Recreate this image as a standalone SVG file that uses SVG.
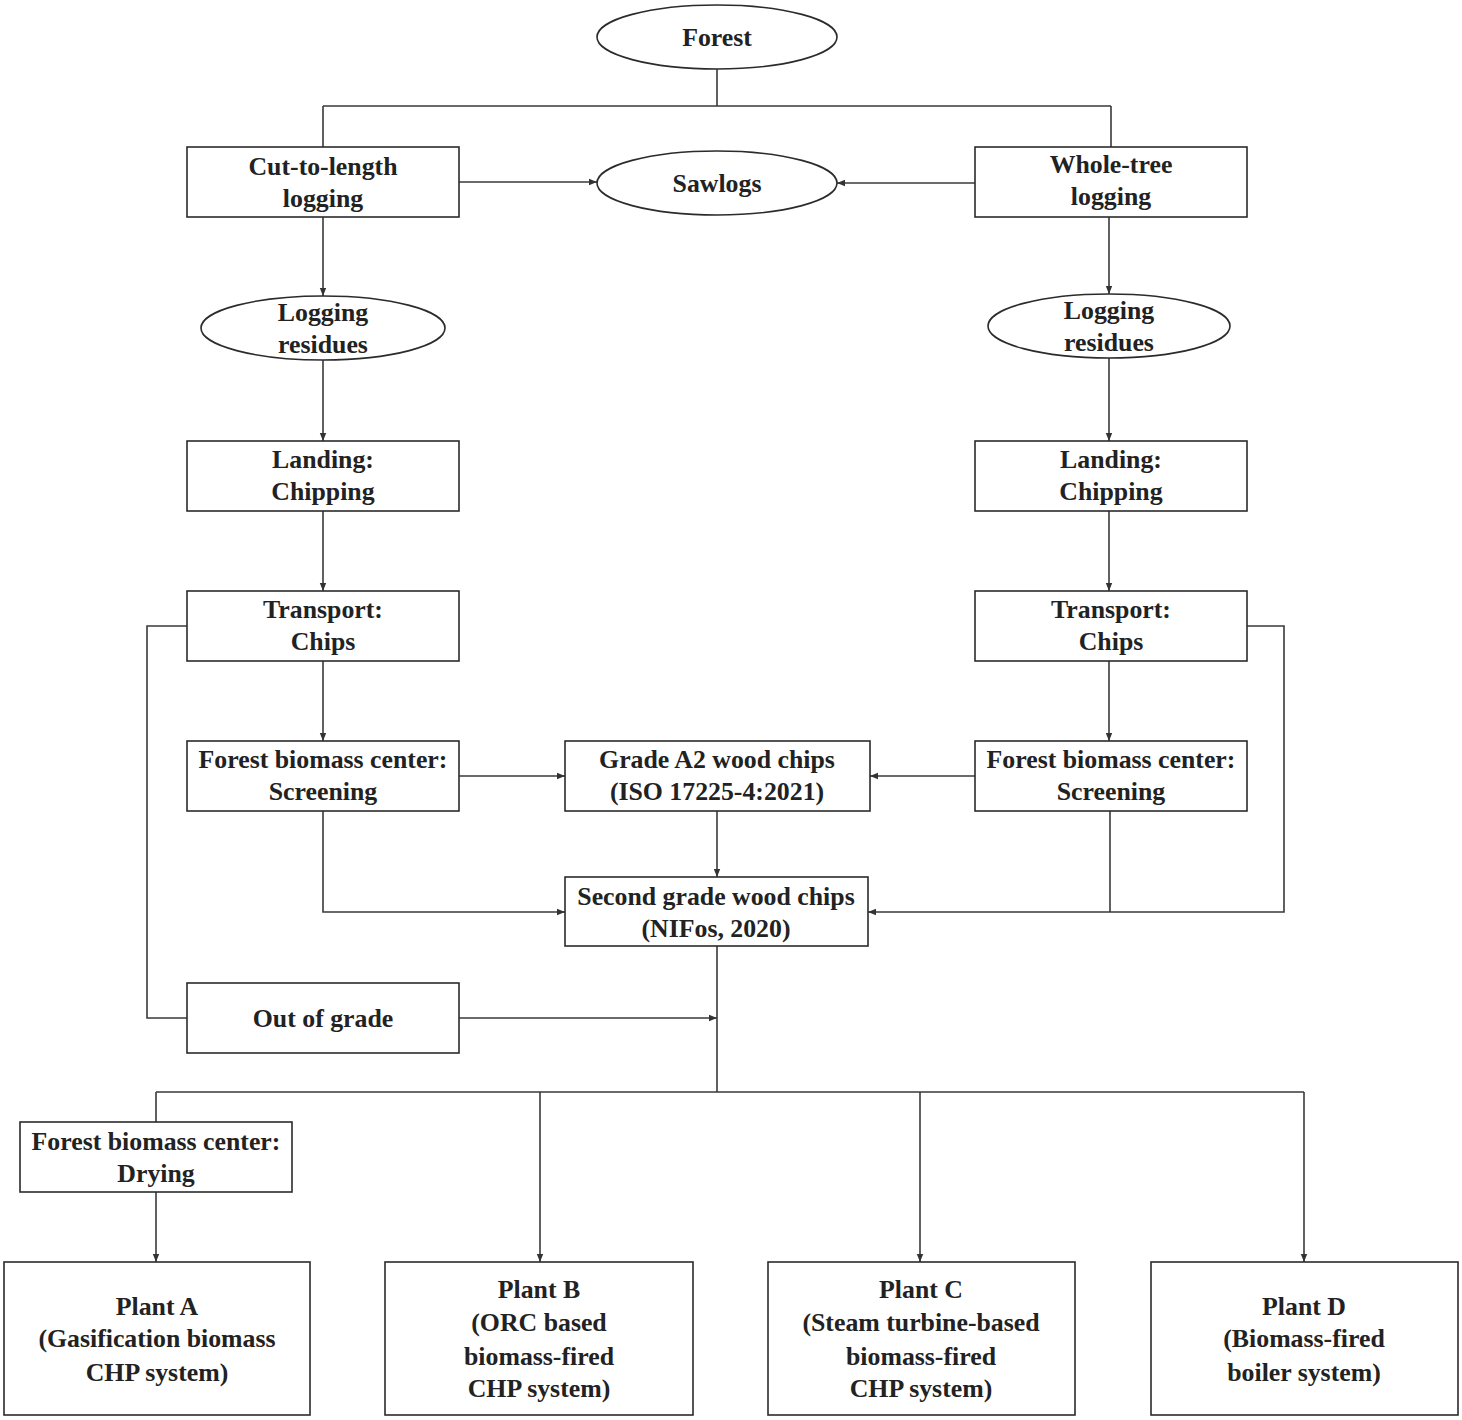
<svg xmlns="http://www.w3.org/2000/svg" width="1462" height="1420" viewBox="0 0 1462 1420">
<defs>
<marker id="ah" viewBox="0 0 10 10" refX="10" refY="5" markerWidth="8" markerHeight="8" markerUnits="userSpaceOnUse" orient="auto">
<path d="M0,1 L10,5 L0,9 Z" fill="#333"/>
</marker>
<style>
.n{fill:#fff;stroke:#2b2b2b;stroke-width:1.6}
.t{font-family:"Liberation Serif","Times New Roman",serif;font-weight:bold;font-size:25.8px;fill:#222;text-anchor:middle}
.c{fill:none;stroke:#3a3a3a;stroke-width:1.6}
.a{marker-end:url(#ah)}
</style>
</defs>
<rect width="1462" height="1420" fill="#fff"/>
<g id="connectors">
<path class="c" d="M717,69 V106 M323,106 H1111 M323,106 V147 M1111,106 V147"/>
<path class="c a" d="M459,182 H597"/>
<path class="c a" d="M975,183 H837"/>
<path class="c a" d="M323,217 V296"/>
<path class="c a" d="M1109,217 V294"/>
<path class="c a" d="M323,360 V441"/>
<path class="c a" d="M1109,358 V441"/>
<path class="c a" d="M323,511 V591"/>
<path class="c a" d="M1109,511 V591"/>
<path class="c a" d="M323,661 V741"/>
<path class="c a" d="M1109,661 V741"/>
<path class="c a" d="M459,776 H565"/>
<path class="c a" d="M975,776 H870"/>
<path class="c a" d="M717,811 V877"/>
<path class="c a" d="M323,811 V912 H565"/>
<path class="c" d="M1110,811 V912"/>
<path class="c a" d="M1247,626 H1284 V912 H868"/>
<path class="c" d="M187,626 H147 V1018 H187"/>
<path class="c a" d="M459,1018 H717"/>
<path class="c" d="M717,946 V1092 M156,1092 H1304 M156,1092 V1122"/>
<path class="c a" d="M156,1192 V1262"/>
<path class="c a" d="M540,1092 V1262"/>
<path class="c a" d="M920,1092 V1262"/>
<path class="c a" d="M1304,1092 V1262"/>
</g>
<g id="forest"><ellipse class="n" cx="717" cy="37" rx="120" ry="32"/><text class="t" x="717" y="46">Forest</text></g>
<g id="ctl"><rect class="n" x="187" y="147" width="272" height="70"/><text class="t" x="323" y="175">Cut-to-length</text><text class="t" x="323" y="207">logging</text></g>
<g id="sawlogs"><ellipse class="n" cx="717" cy="183" rx="120" ry="32"/><text class="t" x="717" y="192">Sawlogs</text></g>
<g id="wtl"><rect class="n" x="975" y="147" width="272" height="70"/><text class="t" x="1111" y="173">Whole-tree</text><text class="t" x="1111" y="205">logging</text></g>
<g id="lr1"><ellipse class="n" cx="323" cy="328" rx="122" ry="32"/><text class="t" x="323" y="321">Logging</text><text class="t" x="323" y="353">residues</text></g>
<g id="lr2"><ellipse class="n" cx="1109" cy="326" rx="121" ry="32"/><text class="t" x="1109" y="319">Logging</text><text class="t" x="1109" y="351">residues</text></g>
<g id="land1"><rect class="n" x="187" y="441" width="272" height="70"/><text class="t" x="323" y="468">Landing:</text><text class="t" x="323" y="500">Chipping</text></g>
<g id="land2"><rect class="n" x="975" y="441" width="272" height="70"/><text class="t" x="1111" y="468">Landing:</text><text class="t" x="1111" y="500">Chipping</text></g>
<g id="tr1"><rect class="n" x="187" y="591" width="272" height="70"/><text class="t" x="323" y="618">Transport:</text><text class="t" x="323" y="650">Chips</text></g>
<g id="tr2"><rect class="n" x="975" y="591" width="272" height="70"/><text class="t" x="1111" y="618">Transport:</text><text class="t" x="1111" y="650">Chips</text></g>
<g id="scr1"><rect class="n" x="187" y="741" width="272" height="70"/><text class="t" x="323" y="768">Forest biomass center:</text><text class="t" x="323" y="800">Screening</text></g>
<g id="a2"><rect class="n" x="565" y="741" width="305" height="70"/><text class="t" x="717" y="768">Grade A2 wood chips</text><text class="t" x="717" y="800">(ISO 17225-4:2021)</text></g>
<g id="scr2"><rect class="n" x="975" y="741" width="272" height="70"/><text class="t" x="1111" y="768">Forest biomass center:</text><text class="t" x="1111" y="800">Screening</text></g>
<g id="second"><rect class="n" x="565" y="877" width="303" height="69"/><text class="t" x="716" y="905">Second grade wood chips</text><text class="t" x="716" y="937">(NIFos, 2020)</text></g>
<g id="oog"><rect class="n" x="187" y="983" width="272" height="70"/><text class="t" x="323" y="1027">Out of grade</text></g>
<g id="dry"><rect class="n" x="20" y="1122" width="272" height="70"/><text class="t" x="156" y="1150">Forest biomass center:</text><text class="t" x="156" y="1182">Drying</text></g>
<g id="pa"><rect class="n" x="4" y="1262" width="306" height="153"/><text class="t" x="157" y="1315">Plant A</text><text class="t" x="157" y="1347">(Gasification biomass</text><text class="t" x="157" y="1381">CHP system)</text></g>
<g id="pb"><rect class="n" x="385" y="1262" width="308" height="153"/><text class="t" x="539" y="1298">Plant B</text><text class="t" x="539" y="1331">(ORC based</text><text class="t" x="539" y="1365">biomass-fired</text><text class="t" x="539" y="1397">CHP system)</text></g>
<g id="pc"><rect class="n" x="768" y="1262" width="307" height="153"/><text class="t" x="921" y="1298">Plant C</text><text class="t" x="921" y="1331">(Steam turbine-based</text><text class="t" x="921" y="1365">biomass-fired</text><text class="t" x="921" y="1397">CHP system)</text></g>
<g id="pd"><rect class="n" x="1151" y="1262" width="307" height="153"/><text class="t" x="1304" y="1315">Plant D</text><text class="t" x="1304" y="1347">(Biomass-fired</text><text class="t" x="1304" y="1381">boiler system)</text></g>
</svg>
